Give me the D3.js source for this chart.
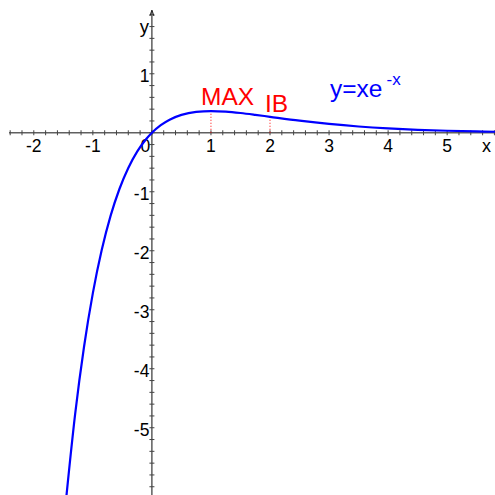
<!DOCTYPE html>
<html>
<head>
<meta charset="utf-8">
<script src="https://cdn.jsdelivr.net/npm/d3@7"></script>
<style>
  html, body { margin: 0; padding: 0; background: #fff; }
  svg { display: block; font-family: Arial, "Liberation Sans", sans-serif; }
</style>
</head>
<body>
<svg id="chart" width="495" height="495"></svg>
<script>
// Sampled points of y = x·e^(-x)
const curveX = [-1.45, -1.3, -1.15, -1.0, -0.85, -0.7, -0.55, -0.4, -0.25, -0.1, 0,
  0.15, 0.3, 0.5, 0.75, 1, 1.25, 1.5, 1.75, 2, 2.5, 3, 3.5, 4, 4.5, 5, 5.5, 5.85];
const curveY = [-6.1815, -4.7701, -3.6319, -2.7183, -1.9887, -1.4096, -0.9533, -0.5967, -0.3210, -0.1105, 0,
  0.1291, 0.2222, 0.3033, 0.3543, 0.3679, 0.3581, 0.3347, 0.3041, 0.2707, 0.2052, 0.1494, 0.1057, 0.0733, 0.0500, 0.0337, 0.0225, 0.0168];

// Marked points: maximum and inflection point
const markNames = ["MAX", "IB"];
const markX = [1, 2];
const markY = [0.3679, 0.2707];

const xTickLabels = [-2, -1, 0, 1, 2, 3, 4, 5];
const yTickLabels = [-5, -4, -3, -2, -1, 1];

const svg = d3.select("#chart");
const x = d3.scaleLinear().domain([-2.42, 5.81]).range([9, 495]);
const y = d3.scaleLinear().domain([2.03, -6.14]).range([13, 495]);

const x0 = x(0), y0 = y(0);

// minor ticks every 0.2
const minorX = d3.range(-12, 30).map(i => i / 5);
const minorY = d3.range(-30, 11).map(i => i / 5);

const axes = svg.append("g");
// x axis
axes.append("line")
  .attr("x1", x(-2.42)).attr("x2", 495).attr("y1", y0).attr("y2", y0)
  .attr("stroke", "#606060").attr("stroke-width", 1.6);
axes.selectAll(".mx").data(minorX).enter().append("line")
  .attr("x1", d => x(d)).attr("x2", d => x(d))
  .attr("y1", y0 - 2.5).attr("y2", y0 + 2.5)
  .attr("stroke", "#444").attr("stroke-width", 1);
// y axis
axes.append("line")
  .attr("x1", x0).attr("x2", x0).attr("y1", 11).attr("y2", 495)
  .attr("stroke", "#222").attr("stroke-width", 1.1);
axes.selectAll(".my").data(minorY).enter().append("line")
  .attr("y1", d => y(d)).attr("y2", d => y(d))
  .attr("x1", x0 - 2.5).attr("x2", x0 + 2.5)
  .attr("stroke", "#444").attr("stroke-width", 1);
// small arrow tip on the y axis
axes.append("path")
  .attr("d", `M${x0 - 2},${16} L${x0},${10} L${x0 + 2},${16}`)
  .attr("fill", "none").attr("stroke", "#222").attr("stroke-width", 1);

// tick labels
svg.selectAll(".xl").data(xTickLabels).enter().append("text")
  .attr("x", d => d === 0 ? x(d) - 6.5 : x(d))
  .attr("y", y0 + 19.5)
  .attr("text-anchor", "middle")
  .attr("font-size", 17.5)
  .attr("fill", "#000")
  .text(d => d);
svg.selectAll(".yl").data(yTickLabels).enter().append("text")
  .attr("x", x0 - 2.5)
  .attr("y", d => y(d) + 8.5)
  .attr("text-anchor", "end")
  .attr("font-size", 17.5)
  .attr("fill", "#000")
  .text(d => d);

// axis names
svg.append("text").attr("x", x0 - 3).attr("y", 33).attr("text-anchor", "end")
  .attr("font-size", 18.5).text("y");
svg.append("text").attr("x", 482).attr("y", y0 + 19.5)
  .attr("font-size", 18).text("x");

// dotted guides from the axis to the marked points
svg.selectAll(".guide").data(markX).enter().append("line")
  .attr("x1", d => x(d)).attr("x2", d => x(d))
  .attr("y1", y0).attr("y2", (d, i) => y(markY[i]))
  .attr("stroke", "#ff0000").attr("stroke-width", 1)
  .attr("stroke-dasharray", "1,2");

// curve
const line = d3.line()
  .x(d => x(d[0])).y(d => y(d[1]))
  .curve(d3.curveMonotoneX);
svg.append("path")
  .datum(curveX.map((v, i) => [v, curveY[i]]))
  .attr("d", line)
  .attr("fill", "none")
  .attr("stroke", "#0000ff")
  .attr("stroke-width", 2.2);

// labels of marked points
const markLabelPos = [[201, 105.3], [265, 111.7]];
svg.selectAll(".mark").data(markNames).enter().append("text")
  .attr("x", (d, i) => markLabelPos[i][0])
  .attr("y", (d, i) => markLabelPos[i][1])
  .attr("font-size", 24.5)
  .attr("fill", "#ff0000")
  .text(d => d);

// function name
const fn = svg.append("text").attr("x", 330).attr("y", 97.3)
  .attr("font-size", 24.5).attr("fill", "#0000ff");
fn.append("tspan").text("y=xe");
fn.append("tspan").attr("x", 386.5).attr("y", 85).attr("font-size", 17).text("-x");
</script>
</body>
</html>
